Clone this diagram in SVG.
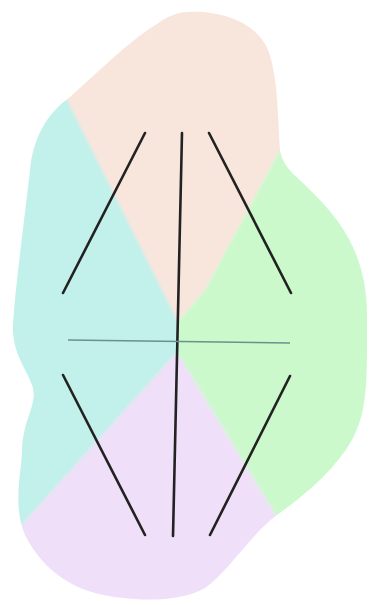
<svg xmlns="http://www.w3.org/2000/svg" width="370" height="605" viewBox="0 0 370 605">
<style>
.ln{stroke:#222;stroke-width:2.6;stroke-linecap:round;fill:none}
.hz{stroke:#6a918b;stroke-width:1.6;fill:none}
</style>
<defs>
<clipPath id="blob">
<path d="M188 12 C225 10 258 25 268 50 C278 75 278 120 280 150 C283 170 300 178 315 195 C345 225 368 260 367 320 C367 380 368 410 352 440 C335 470 305 495 277 515 C250 535 230 570 205 588 C180 603 130 602 95 593 C65 585 40 565 25 535 C12 505 22 470 22 450 C23 420 37 405 33 388 C28 370 12 355 13 325 C15 290 22 240 30 170 C33 140 45 115 70 97 C100 70 130 40 160 22 C170 15 180 12 188 12 Z"/>
</clipPath>
<filter id="soft" x="-5%" y="-5%" width="110%" height="110%"><feGaussianBlur stdDeviation="1.5"/></filter>
</defs>
<rect width="370" height="605" fill="#fff"/>
<g id="regions" clip-path="url(#blob)" filter="url(#soft)">
<polygon id="peach" points="17,0 178,322 205,290 280,150 363,0" fill="#f8e5dc"/>
<polygon id="cyan" points="0,0 17,0 178,322 177,352 -50,605 0,605" fill="#c2f0ea"/>
<polygon id="green" points="363,0 370,0 370,605 330,605 177,352 178,322 205,290 280,150" fill="#cbf9cc"/>
<polygon id="lavender" points="177,352 330,605 -50,605" fill="#efdff8"/>
</g>
<g id="connectors">
<line class="ln" x1="145" y1="133" x2="63" y2="293"/>
<line class="ln" x1="182" y1="133" x2="173" y2="536"/>
<line class="ln" x1="209" y1="133" x2="291" y2="293"/>
<line class="hz" x1="68" y1="340" x2="290" y2="343"/>
<line class="ln" x1="63" y1="375" x2="145" y2="535"/>
<line class="ln" x1="290" y1="376" x2="210" y2="535"/>
</g>
</svg>
